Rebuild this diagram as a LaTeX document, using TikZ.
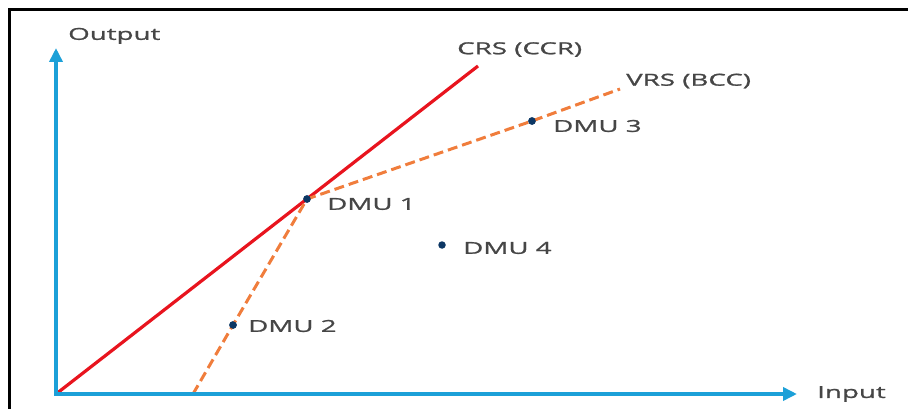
\documentclass[tikz,border=0pt]{standalone}
\usepackage{fontspec}
\setmainfont{Open Sans}[FakeStretch=1.68,FakeBold=1.2]
\usepackage{tikz}
\usetikzlibrary{positioning}
\usetikzlibrary{arrows.meta}
\definecolor{axisblue}{RGB}{28,160,216}
\definecolor{crsred}{RGB}{232,20,30}
\definecolor{vrsorange}{RGB}{240,125,60}
\definecolor{dmunavy}{RGB}{12,55,100}
\definecolor{labelgray}{RGB}{70,70,70}
\tikzset{%
  axis/.style={line width=4pt,axisblue,{Triangle[length=14pt,width=13pt]}-{Triangle[length=14pt,width=13pt]}},
  crs/.style={line width=3.2pt,crsred},
  vrs/.style={line width=3pt,vrsorange,dash pattern=on 10pt off 5pt},
  dmu/.style={circle,fill=dmunavy,inner sep=0pt,minimum size=7.5pt},
  lbl/.style={inner sep=0pt,text=labelgray,font=\fontsize{16.5}{18}\selectfont}
}

\begin{document}
\begin{tikzpicture}[x=1pt,y=1pt]
  \useasboundingbox (0,0) rectangle (908,408);
  \draw[line width=3pt] (9,-10) |- (920,398);

  \coordinate (O) at (56,14);
  \coordinate (ytip) at (56,360);
  \coordinate (xtip) at (797,14);
  \coordinate (crsend) at (478,342);
  \coordinate (vrs0) at (193,14);
  \coordinate (vrsend) at (620,319);

  \node[dmu] (d1) at (307,209) {};
  \node[dmu] (d2) at (233,83) {};
  \node[dmu] (d3) at (532,287) {};
  \node[dmu] (d4) at (442,163) {};

  % frontiers
  \draw[crs] (O) -- (crsend);
  \draw[vrs] (vrs0) -- (d2.center) -- (d1.center) -- (d3.center) -- (vrsend);
  \draw[axis] (ytip) -- (O) -- (xtip);

  \node[dmu] at (d1) {};
  \node[dmu] at (d2) {};
  \node[dmu] at (d3) {};

  \node[lbl, above right=4pt and 12pt of ytip] (out) {Output};
  \node[lbl, right=20pt of xtip] (inp) {Input};
  \node[lbl, above right=9pt and -21pt of crsend] (crslbl) {CRS (CCR)};
  \node[lbl, right=6pt of vrsend, yshift=8pt] (vrslbl) {VRS (BCC)};

  \node[lbl, right=16pt of d1, yshift=-5pt] (l1) {DMU 1};
  \node[lbl, right=11pt of d2, yshift=-1pt] (l2) {DMU 2};
  \node[lbl, right=17pt of d3, yshift=-5pt] (l3) {DMU 3};
  \node[lbl, right=17pt of d4, yshift=-3pt] (l4) {DMU 4};
\end{tikzpicture}
\end{document}
